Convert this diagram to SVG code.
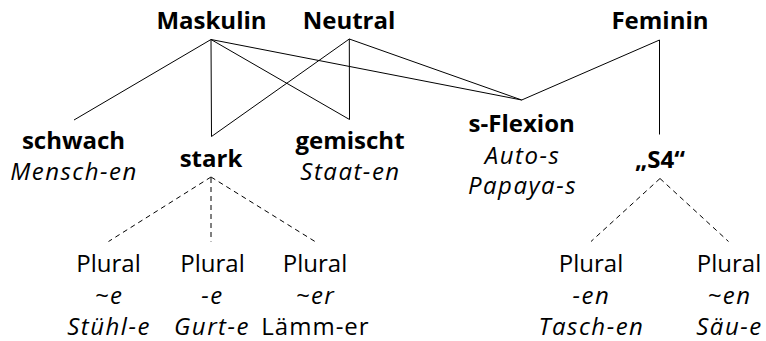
<svg xmlns="http://www.w3.org/2000/svg" width="766" height="341" viewBox="0 0 766 341">
<style>
text{font-family:"Open Sans","Noto Sans",sans-serif;font-size:24px;fill:#000;text-anchor:middle}
.b{font-weight:bold}
.i{font-style:italic;letter-spacing:1.5px}
.w{letter-spacing:1px}
.e{fill:none;stroke:#000;stroke-width:1}
.d{fill:none;stroke:#000;stroke-width:1;stroke-dasharray:5 4}
</style>
<rect width="766" height="341" fill="#fff"/>
<g id="connectors">
<path class="e" d="M211,39.5L74,120M211,39.5L211.5,136.5M211,39.5L349.5,119.5M211,39.5L521.7,100"/>
<path class="e" d="M349.3,39L211.5,136.5M349.3,39L349.5,119.5M349.3,39L521.7,100"/>
<path class="e" d="M659.5,40L521.7,100M659.5,40L659.5,134.5"/>
<path class="d" d="M211,177L108.5,241.5M211,178L211,241.5M211,177L315,241.5"/>
<path class="d" d="M660,178.5L591,241.5M660,178.5L728.5,241.5"/>
</g>
<g id="maskulin"><text class="b" x="211.5" y="29">Maskulin</text></g>
<g id="neutral"><text class="b" x="349" y="29">Neutral</text></g>
<g id="feminin"><text class="b" x="660" y="29">Feminin</text></g>
<g id="schwach"><text class="b" x="73.5" y="148.5">schwach</text><text class="i" x="74" y="180">Mensch-en</text></g>
<g id="stark"><text class="b" x="211" y="167">stark</text></g>
<g id="gemischt"><text class="b" x="350" y="148.5">gemischt</text><text class="i" x="350.5" y="180">Staat-en</text></g>
<g id="sflexion"><text class="b" x="521.7" y="132">s-Flexion</text><text class="i" x="522.5" y="163.5">Auto-s</text><text class="i" x="522.5" y="194">Papaya-s</text></g>
<g id="s4"><text class="b" x="660" y="167.5">„S4“</text></g>
<g id="plural1"><text x="108.5" y="272">Plural</text><text class="i" x="109" y="303.5">~e</text><text class="i" x="109" y="335">Stühl-e</text></g>
<g id="plural2"><text x="212.5" y="272">Plural</text><text class="i" x="212.5" y="303.5">-e</text><text class="i" x="212" y="335">Gurt-e</text></g>
<g id="plural3"><text x="315" y="272">Plural</text><text class="i" x="315.5" y="303.5">~er</text><text class="w" x="315.5" y="335">Lämm-er</text></g>
<g id="plural4"><text x="591" y="272">Plural</text><text class="i" x="591.5" y="303.5">-en</text><text class="i" x="591.5" y="335">Tasch-en</text></g>
<g id="plural5"><text x="729" y="272">Plural</text><text class="i" x="729.5" y="303.5">~en</text><text class="i" x="729.5" y="335">Säu-e</text></g>
</svg>
